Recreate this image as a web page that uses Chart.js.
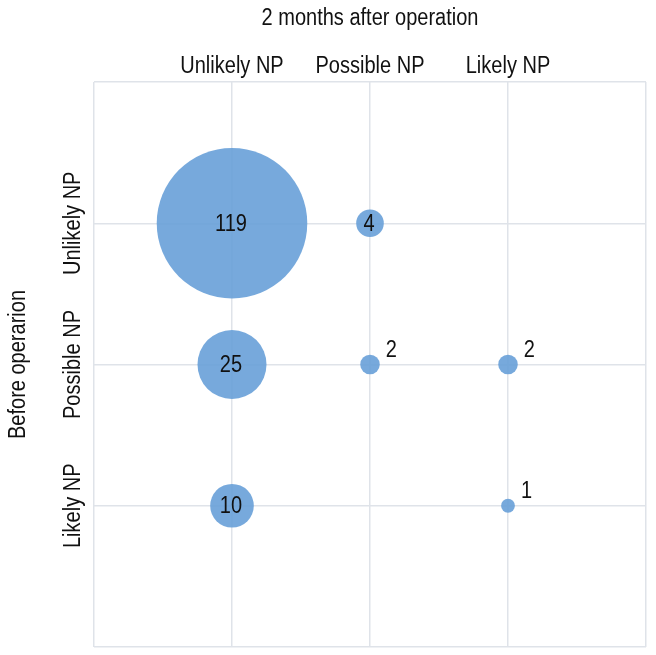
<!DOCTYPE html>
<html>
<head>
<meta charset="utf-8">
<script src="https://cdn.jsdelivr.net/npm/chart.js@4.4.1/dist/chart.umd.min.js"></script>
<style>
  html, body { margin: 0; padding: 0; background: #fff; overflow: hidden; }
  canvas { display: block; }
</style>
</head>
<body>
<canvas id="chart" width="656" height="655"></canvas>
<script>
// categories (same for both axes)
const categories = ['Unlikely NP', 'Possible NP', 'Likely NP'];
const xTitle = '2 months after operation';
const yTitle = 'Before operarion'; // spelled as in the source figure

// bubbles: column (after), row (before), patient count
const afterIdx  = [0, 1, 0, 1, 2, 0, 2];
const beforeIdx = [0, 0, 1, 1, 1, 2, 2];
const counts    = [119, 4, 25, 2, 2, 10, 1];

const FONT = '"Liberation Sans", Arial, sans-serif';
const NARROW = 0.87; // the figure uses a condensed face
const radiusFor = n => 6.9 * Math.sqrt(n);

const points = counts.map((n, i) => ({ x: afterIdx[i] + 1, y: beforeIdx[i] + 1, n: n }));

function drawText(ctx, text, x, y, align, vertical) {
    ctx.save();
    ctx.translate(x, y);
    if (vertical) ctx.rotate(-Math.PI / 2);
    ctx.scale(NARROW, 1);
    ctx.textAlign = align;
    ctx.fillText(text, 0, 0);
    ctx.restore();
}

// draws tick labels, axis titles and bubble counts
const labelsPlugin = {
    id: 'labels',
    afterDatasetsDraw(chart) {
        const ctx = chart.ctx;
        const xs = chart.scales.x, ys = chart.scales.y;
        ctx.save();
        ctx.fillStyle = '#111';
        ctx.font = '23px ' + FONT;
        ctx.textBaseline = 'middle';

        // top axis
        drawText(ctx, xTitle, (chart.chartArea.left + chart.chartArea.right) / 2, 19, 'center');
        categories.forEach((c, i) => drawText(ctx, c, xs.getPixelForValue(i + 1), 67, 'center'));

        // left axis (rotated)
        const midY = (chart.chartArea.top + chart.chartArea.bottom) / 2;
        drawText(ctx, yTitle, 19, midY, 'center', true);
        categories.forEach((c, i) => drawText(ctx, c, 74, ys.getPixelForValue(i + 1), 'center', true));

        // counts
        const meta = chart.getDatasetMeta(0);
        meta.data.forEach((el, i) => {
            const r = radiusFor(counts[i]);
            if (r > 12) {
                drawText(ctx, String(counts[i]), el.x - 1, el.y + 1, 'center');
            } else {
                drawText(ctx, String(counts[i]), el.x + r + 6, el.y - 14, 'left');
            }
        });
        ctx.restore();
    }
};

const gridColor = '#dfe3e9';

new Chart(document.getElementById('chart'), {
    type: 'bubble',
    data: {
        datasets: [{
            data: points,
            backgroundColor: 'rgba(104,160,216,0.9)',
            borderWidth: 0,
            radius: ctx => radiusFor(ctx.raw.n),
            hoverRadius: 0
        }]
    },
    options: {
        responsive: false,
        animation: false,
        layout: { autoPadding: false, padding: { left: 94, top: 82, right: 10, bottom: 8 } },
        plugins: {
            legend: { display: false },
            tooltip: { enabled: false }
        },
        scales: {
            x: {
                min: 0, max: 4,
                ticks: { display: false, stepSize: 1 },
                grid: { color: gridColor, lineWidth: 1.5, drawTicks: false },
                border: { display: false }
            },
            y: {
                min: 0, max: 4,
                reverse: true,
                ticks: { display: false, stepSize: 1 },
                grid: { color: gridColor, lineWidth: 1.5, drawTicks: false },
                border: { display: false }
            }
        }
    },
    plugins: [labelsPlugin]
});
</script>
</body>
</html>
